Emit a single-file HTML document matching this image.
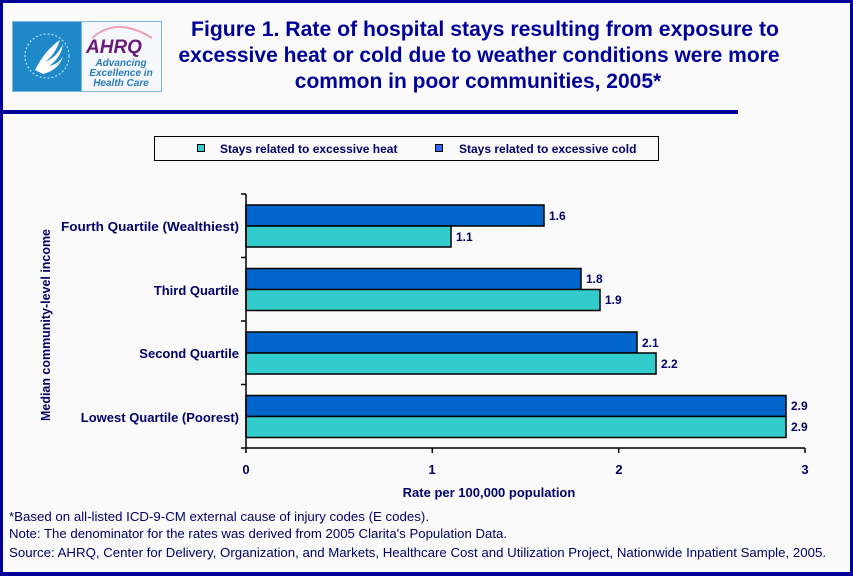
<!DOCTYPE html>
<html><head><style>
body{margin:0;padding:0;background:#fff}
svg{display:block}
text{font-family:"Liberation Sans",Arial,sans-serif}
</style></head><body>
<svg width="853" height="576" viewBox="0 0 853 576" xmlns="http://www.w3.org/2000/svg">
<rect x="0" y="0" width="853" height="576" fill="#fafafa"/>
<rect x="1.5" y="1.5" width="850" height="572" fill="none" stroke="#000099" stroke-width="3"/>
<rect x="0" y="572" width="853" height="4" fill="#000099"/>
<rect x="2" y="110" width="736" height="4" fill="#000099"/>
<!-- logo -->
<rect x="12" y="21" width="150" height="71" fill="#7fb6e0"/>
<rect x="13" y="22" width="68" height="69" fill="#1e88c8"/>
<rect x="82" y="22" width="79" height="69" fill="#f4f8fc"/>
<path d="M35 70 q10-20 25-30 q-5 15-15 22 q12-5 18-18 q-2 14-14 22 q10-2 14-10 q-4 14-20 18 z" fill="#fff"/>
<circle cx="47" cy="56" r="22" fill="none" stroke="#d6ecf8" stroke-width="1" stroke-dasharray="2 2"/>
<path d="M92 38 q25-22 60 0" fill="none" stroke="#f0a0b0" stroke-width="2"/>
<text x="86" y="53" font-size="19" font-weight="bold" font-style="italic" fill="#6a1a7a">AHRQ</text>
<text x="121" y="66" font-size="10" font-weight="bold" font-style="italic" fill="#2a7ab8" text-anchor="middle">Advancing</text>
<text x="121" y="76" font-size="10" font-weight="bold" font-style="italic" fill="#2a7ab8" text-anchor="middle">Excellence in</text>
<text x="121" y="86" font-size="10" font-weight="bold" font-style="italic" fill="#2a7ab8" text-anchor="middle">Health Care</text>
<!-- title -->
<g font-size="21" font-weight="bold" fill="#000099" text-anchor="middle">
<text x="485" y="36" textLength="588" lengthAdjust="spacingAndGlyphs">Figure 1. Rate of hospital stays resulting from exposure to</text>
<text x="479" y="62">excessive heat or cold due to weather conditions were more</text>
<text x="478" y="88">common in poor communities, 2005*</text>
</g>
<!-- legend -->
<rect x="154.5" y="136.5" width="504" height="24" fill="#fafafa" stroke="#000" stroke-width="1"/>
<rect x="197.5" y="144.5" width="7" height="7" fill="#33cccc" stroke="#000" stroke-width="1"/>
<rect x="435.5" y="144.5" width="7" height="7" fill="#3366ff" stroke="#000" stroke-width="1"/>
<g font-size="12" font-weight="bold" fill="#000066">
<text x="220" y="153">Stays related to excessive heat</text>
<text x="459" y="153">Stays related to excessive cold</text>
</g>
<!-- bars -->
<g stroke="#000" stroke-width="1.5">
<rect x="246" y="205" width="298" height="21" fill="#0066cc"/>
<rect x="246" y="226" width="205" height="21" fill="#33cccc"/>
<rect x="246" y="268.5" width="335" height="21" fill="#0066cc"/>
<rect x="246" y="289.5" width="354" height="21" fill="#33cccc"/>
<rect x="246" y="332" width="391" height="21" fill="#0066cc"/>
<rect x="246" y="353" width="410" height="21" fill="#33cccc"/>
<rect x="246" y="395.5" width="540" height="21" fill="#0066cc"/>
<rect x="246" y="416.5" width="540" height="21" fill="#33cccc"/>
</g>
<g font-size="12" font-weight="bold" fill="#000066">
<text x="549" y="220">1.6</text><text x="456" y="241">1.1</text>
<text x="586" y="283">1.8</text><text x="605" y="304">1.9</text>
<text x="642" y="347">2.1</text><text x="661" y="368">2.2</text>
<text x="791" y="410">2.9</text><text x="791" y="431">2.9</text>
</g>
<!-- axes -->
<g stroke="#000" stroke-width="1.5" fill="none">
<line x1="246" y1="194" x2="246" y2="448"/>
<line x1="246" y1="448" x2="805" y2="448"/>
<line x1="241" y1="194" x2="246" y2="194"/>
<line x1="241" y1="257.5" x2="246" y2="257.5"/>
<line x1="241" y1="321" x2="246" y2="321"/>
<line x1="241" y1="384.5" x2="246" y2="384.5"/>
<line x1="241" y1="448" x2="246" y2="448"/>
<line x1="246" y1="448" x2="246" y2="453"/>
<line x1="432.3" y1="448" x2="432.3" y2="453"/>
<line x1="618.7" y1="448" x2="618.7" y2="453"/>
<line x1="805" y1="448" x2="805" y2="453"/>
</g>
<g font-size="13" font-weight="bold" fill="#000066">
<text x="246" y="474" text-anchor="middle">0</text>
<text x="432" y="474" text-anchor="middle">1</text>
<text x="619" y="474" text-anchor="middle">2</text>
<text x="805" y="474" text-anchor="middle">3</text>
<text x="489" y="497" text-anchor="middle">Rate per 100,000 population</text>
<text x="239" y="231" text-anchor="end" textLength="178" lengthAdjust="spacingAndGlyphs">Fourth Quartile (Wealthiest)</text>
<text x="239" y="295" text-anchor="end">Third Quartile</text>
<text x="239" y="358" text-anchor="end">Second Quartile</text>
<text x="239" y="422" text-anchor="end">Lowest Quartile (Poorest)</text>
<text transform="translate(50,325) rotate(-90)" text-anchor="middle" textLength="192" lengthAdjust="spacingAndGlyphs">Median community-level income</text>
</g>
<g font-size="13" fill="#000066">
<text x="9" y="521" textLength="420" lengthAdjust="spacingAndGlyphs">*Based on all-listed ICD-9-CM external cause of injury codes (E codes).</text>
<text x="9" y="538" textLength="498" lengthAdjust="spacingAndGlyphs">Note: The denominator for the rates was derived from 2005 Clarita's Population Data.</text>
<text x="9" y="557" textLength="817" lengthAdjust="spacingAndGlyphs">Source: AHRQ, Center for Delivery, Organization, and Markets, Healthcare Cost and Utilization Project, Nationwide Inpatient Sample, 2005.</text>
</g>
</svg>
</body></html>
